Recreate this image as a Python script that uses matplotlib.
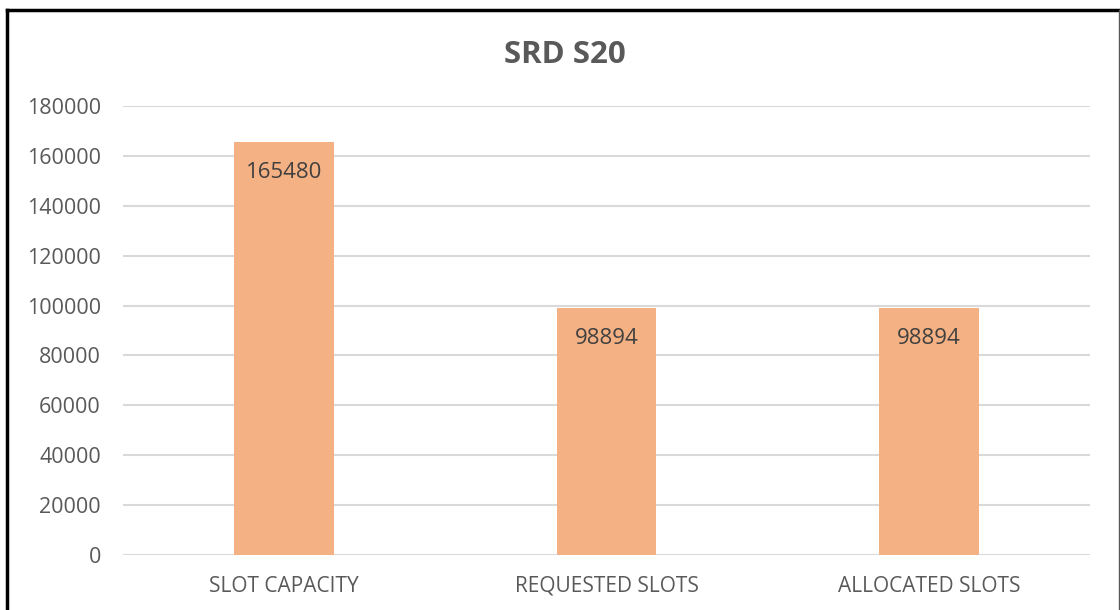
import matplotlib.pyplot as plt
from matplotlib.lines import Line2D

categories = ["SLOT CAPACITY", "REQUESTED SLOTS", "ALLOCATED SLOTS"]
values = [165480, 98894, 98894]
yticks = [0, 20000, 40000, 60000, 80000, 100000, 120000, 140000, 160000, 180000]

plt.rcParams["font.family"] = ["Open Sans", "DejaVu Sans"]

fig = plt.figure(figsize=(11.2, 6.1), dpi=100)
ax = fig.add_axes([0.1098, 0.0902, 0.8634, 0.736])

x = range(len(categories))
bars = ax.bar(x, values, width=0.31, color="#F4B183", zorder=3)

for bar, v in zip(bars, values):
    ax.annotate(f"{v}", (bar.get_x() + bar.get_width() / 2, v),
                xytext=(0, -20), textcoords="offset pixels",
                ha="center", va="top", fontsize=16, color="#404040", zorder=4)

ax.set_xlim(-0.5, 2.5)
ax.set_ylim(0, 180000)
ax.set_yticks(yticks)
ax.set_yticklabels([str(t) for t in yticks])
ax.set_xticks(list(x))
ax.set_xticklabels(categories)
ax.tick_params(axis="both", length=0, labelcolor="#595959")
ax.tick_params(axis="y", pad=16, labelsize=15.5)
ax.tick_params(axis="x", pad=15, labelsize=15)
ax.grid(axis="y", color="#D9D9D9", linewidth=1.5, zorder=0)
for s in ax.spines.values():
    s.set_visible(False)

fig.text(0.504, 0.91, "SRD S20", ha="center", va="center",
         fontsize=22.5, fontweight="bold", color="#595959")

# chart frame
fig.add_artist(Line2D([0.0063, 1.0], [0.9836, 0.9836], color="black", linewidth=2.5))
fig.add_artist(Line2D([0.0063, 0.0063], [0.0, 0.9836], color="black", linewidth=2.5))
fig.add_artist(Line2D([0.9992, 0.9992], [0.0, 0.9836], color="#595959", linewidth=1))

fig.savefig("out.png", dpi=100)
